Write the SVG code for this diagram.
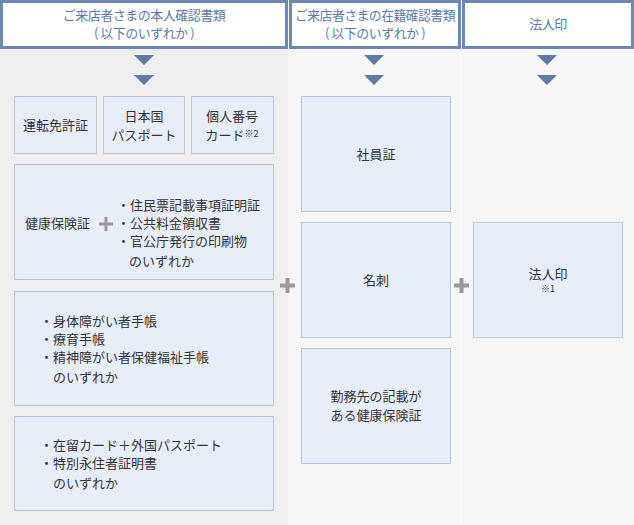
<svg xmlns="http://www.w3.org/2000/svg" width="634" height="525" viewBox="0 0 634 525">
<style>
.h{fill:#fff;stroke:#6f87b3;stroke-width:3}
.ht{fill:#5d7aa8;font-family:"Noto Sans CJK JP",sans-serif;font-size:13px;text-anchor:middle;letter-spacing:-0.5px}
.b{fill:#e8eef9;stroke:#b9c5d9;stroke-width:1}
.t{fill:#333;font-family:"Noto Sans CJK JP",sans-serif;font-size:13px}
.c{text-anchor:middle}
.s{font-size:9px}
.tri{fill:#5f7aa5}
.p{fill:#999}
</style>
<rect x="0" y="0" width="288" height="525" fill="#efefef"/>
<rect x="288" y="0" width="173" height="525" fill="#f7f7f7"/>
<rect x="461" y="0" width="173" height="525" fill="#f7f7f7"/>
<line x1="461" y1="0" x2="461" y2="525" stroke="#fff"/>
<g id="h1"><rect class="h" x="1.5" y="1.5" width="285" height="46"/><text class="ht" x="144" y="20">ご来店者さまの本人確認書類</text><text class="ht" x="144" y="38">( 以下のいずれか )</text></g>
<g id="h2"><rect class="h" x="290.5" y="1.5" width="169" height="46"/><text class="ht" x="375" y="20" textLength="160" lengthAdjust="spacingAndGlyphs">ご来店者さまの在籍確認書類</text><text class="ht" x="375" y="38">( 以下のいずれか )</text></g>
<g id="h3"><rect class="h" x="463.5" y="1.5" width="169" height="46"/><text class="ht" x="548" y="29">法人印</text></g>
<g id="connectors">
<path class="tri" d="M134,55h20l-10,10z M134,75h20l-10,10z M364,55h20l-10,10z M364,75h20l-10,10z M537,55h20l-10,10z M537,75h20l-10,10z"/>
<path class="p" d="M280,283.5h15v4h-15z M285.5,278h4v15h-4z M454,283.5h15v4h-15z M459.5,278h4v15h-4z"/>
</g>
<g id="n1"><rect class="b" x="14.5" y="96.5" width="82" height="57"/><text class="t c" x="55.5" y="130">運転免許証</text></g>
<g id="n2"><rect class="b" x="103.5" y="96.5" width="81" height="57"/><text class="t c" x="144" y="121">日本国</text><text class="t c" x="144" y="140">パスポート</text></g>
<g id="n3"><rect class="b" x="191.5" y="96.5" width="82" height="57"/><text class="t c" x="232" y="121">個人番号</text><text class="t c" x="232" y="140">カード<tspan class="s" dy="-3">※2</tspan></text></g>
<g id="n4"><rect class="b" x="14.5" y="164.5" width="259" height="115"/><text class="t" x="25" y="228">健康保険証</text><path class="p" d="M99,222.5h14v3h-14z M104.5,217h3v14h-3z"/><text class="t" x="117" y="210">・住民票記載事項証明証</text><text class="t" x="117" y="228">・公共料金領収書</text><text class="t" x="117" y="246">・官公庁発行の印刷物</text><text class="t" x="129" y="266" font-size="11">のいずれか</text></g>
<g id="n5"><rect class="b" x="14.5" y="291.5" width="259" height="114"/><text class="t" x="40" y="326">・身体障がい者手帳</text><text class="t" x="40" y="344">・療育手帳</text><text class="t" x="40" y="362">・精神障がい者保健福祉手帳</text><text class="t" x="53" y="382" font-size="11">のいずれか</text></g>
<g id="n6"><rect class="b" x="14.5" y="416.5" width="259" height="94"/><text class="t" x="40" y="450">・在留カード＋外国パスポート</text><text class="t" x="40" y="468">・特別永住者証明書</text><text class="t" x="53" y="488" font-size="11">のいずれか</text></g>
<g id="n7"><rect class="b" x="301.5" y="96.5" width="149" height="115"/><text class="t c" x="376" y="159">社員証</text></g>
<g id="n8"><rect class="b" x="301.5" y="222.5" width="149" height="115"/><text class="t c" x="376" y="285">名刺</text></g>
<g id="n9"><rect class="b" x="301.5" y="348.5" width="149" height="115"/><text class="t c" x="376" y="401">勤務先の記載が</text><text class="t c" x="376" y="420">ある健康保険証</text></g>
<g id="n10"><rect class="b" x="473.5" y="222.5" width="149" height="115"/><text class="t c" x="548" y="279">法人印</text><text class="t c s" x="548" y="292" fill="#666">※1</text></g>
</svg>
